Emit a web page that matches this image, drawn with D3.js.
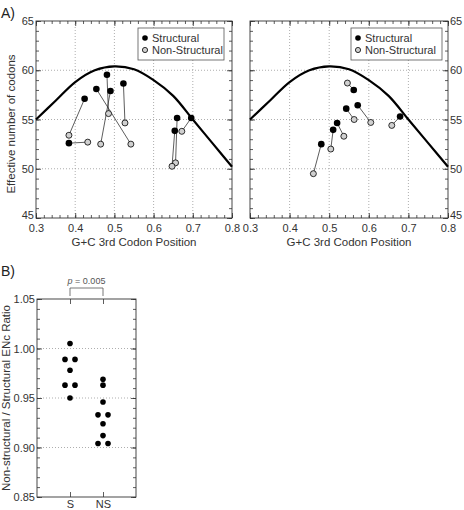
<!DOCTYPE html>
<html><head><meta charset="utf-8">
<script src="https://cdn.jsdelivr.net/npm/d3@7"></script>
<style>
body{margin:0;background:#fff;}
svg, svg text{font-family:"Liberation Sans",Arial,Helvetica,sans-serif;}
</style></head>
<body><svg id="c" width="464" height="510"></svg>
<script>
// ---- Data ----
const curveGC  = [0.30,0.35,0.40,0.45,0.50,0.55,0.60,0.65,0.70,0.75,0.80];
const curveENc = [55.0,56.9,58.8,60.0,60.4,60.1,59.0,57.4,55.0,52.6,50.2];

// Left panel: structural (filled) vs non-structural (grey) pairs
const leftStructGC  = [0.384,0.424,0.454,0.481,0.490,0.523,0.660,0.654,0.696];
const leftStructENc = [52.6,57.1,58.1,59.55,57.9,58.65,55.15,53.85,55.15];
const leftNonGC     = [0.432,0.384,0.542,0.485,0.465,0.527,0.656,0.647,0.672];
const leftNonENc    = [52.7,53.4,52.5,55.6,52.5,54.65,50.6,50.25,53.8];

// Right panel
const rightStructGC  = [0.480,0.510,0.520,0.543,0.562,0.572,0.679];
const rightStructENc = [52.5,53.95,54.65,56.1,58.0,56.45,55.3];
const rightNonGC     = [0.460,0.504,0.537,0.563,0.546,0.605,0.658];
const rightNonENc    = [49.5,52.0,53.3,55.0,58.7,54.7,54.4];

// Panel B ratios
const ratioCategories = ["S","NS"];
const ratioS  = [1.005,0.989,0.989,0.978,0.963,0.963,0.950];
const ratioNS = [0.969,0.963,0.946,0.933,0.933,0.924,0.912,0.904,0.904];

const xTicksA = [0.3,0.4,0.5,0.6,0.7,0.8];
const yTicksA = [45,50,55,60,65];
const yTicksB = [0.85,0.90,0.95,1.00,1.05];
const legendLabels = ["Structural","Non-Structural"];
const pLabel = "0.005";

// ---- Drawing ----
const FONT = "Liberation Sans, Arial, Helvetica, sans-serif";
const svg = d3.select("#c");
const tickColor = "#333";
const greyFill = "#d0d0d0";

svg.append("text").attr("x",1).attr("y",18).attr("font-size",14).attr("fill","#222").text("A)");
svg.append("text").attr("x",1).attr("y",276).attr("font-size",14).attr("fill","#222").text("B)");

function fixAxis(sel){ sel.attr("font-family",FONT); return sel; }

function panelA(x0,x1,labelsLeft,sGC,sENc,nGC,nENc,legendX,legendW){
  const top=21,bottom=218;
  const x=d3.scaleLinear().domain([0.3,0.8]).range([x0,x1]);
  const y=d3.scaleLinear().domain([45,65]).range([bottom,top]);
  const g=svg.append("g");
  g.selectAll(".gx").data(xTicksA.slice(1,-1)).join("line")
    .attr("x1",d=>x(d)).attr("x2",d=>x(d)).attr("y1",top).attr("y2",bottom)
    .attr("stroke","#999").attr("stroke-width",0.8).attr("stroke-dasharray","1,2");
  g.selectAll(".gy").data(yTicksA.slice(1,-1)).join("line")
    .attr("y1",d=>y(d)).attr("y2",d=>y(d)).attr("x1",x0).attr("x2",x1)
    .attr("stroke","#999").attr("stroke-width",0.8).attr("stroke-dasharray","1,2");
  const xMinor=d3.range(0.30,0.8001,0.02);
  const yMinor=d3.range(45,65.001,1);
  const mk=(axisFn,scale,vals,size,fmt)=>axisFn(scale).tickValues(vals).tickSizeInner(size).tickSizeOuter(0).tickFormat(fmt);
  const none=()=>"";
  g.append("g").attr("transform",`translate(0,${bottom})`).call(mk(d3.axisTop,x,xMinor,3,none));
  const bx=g.append("g").attr("transform",`translate(0,${bottom})`).call(mk(d3.axisTop,x,xTicksA,5,d3.format(".1f")));
  fixAxis(bx).selectAll("text").attr("y",14).attr("dy",0).attr("font-size",11).attr("fill",tickColor);
  g.append("g").attr("transform",`translate(0,${top})`).call(mk(d3.axisBottom,x,xMinor,3,none));
  g.append("g").attr("transform",`translate(0,${top})`).call(mk(d3.axisBottom,x,xTicksA,5,none));
  g.append("g").attr("transform",`translate(${x0},0)`).call(mk(d3.axisRight,y,yMinor,3,none));
  const ly=g.append("g").attr("transform",`translate(${x0},0)`).call(mk(d3.axisRight,y,yTicksA,5,labelsLeft?d3.format("d"):none));
  g.append("g").attr("transform",`translate(${x1},0)`).call(mk(d3.axisLeft,y,yMinor,3,none));
  const ry=g.append("g").attr("transform",`translate(${x1},0)`).call(mk(d3.axisLeft,y,yTicksA,5,labelsLeft?none:d3.format("d")));
  const yl = labelsLeft ? ly : ry;
  fixAxis(yl).selectAll("text")
    .attr("x",labelsLeft?-2:2).attr("text-anchor",labelsLeft?"end":"start")
    .attr("font-size",11).attr("fill",tickColor)
    .attr("dy",d=>d===45?"0.05em":"0.32em");
  g.selectAll(".domain").remove();
  g.selectAll(".tick line").attr("stroke","#333").attr("stroke-width",0.8);
  g.append("rect").attr("x",x0).attr("y",top).attr("width",x1-x0).attr("height",bottom-top)
    .attr("fill","none").attr("stroke","#333").attr("stroke-width",0.9);
  const line=d3.line().x((d,i)=>x(curveGC[i])).y(d=>y(d)).curve(d3.curveCatmullRom);
  g.append("path").datum(curveENc).attr("d",line).attr("fill","none").attr("stroke","#000").attr("stroke-width",2.2);
  g.selectAll(".con").data(sGC).join("line")
    .attr("x1",(d,i)=>x(sGC[i])).attr("y1",(d,i)=>y(sENc[i]))
    .attr("x2",(d,i)=>x(nGC[i])).attr("y2",(d,i)=>y(nENc[i]))
    .attr("stroke","#333").attr("stroke-width",0.8);
  g.selectAll(".ns").data(nGC).join("circle")
    .attr("cx",(d,i)=>x(nGC[i])).attr("cy",(d,i)=>y(nENc[i])).attr("r",3)
    .attr("fill",greyFill).attr("stroke","#000").attr("stroke-width",0.8);
  g.selectAll(".st").data(sGC).join("circle")
    .attr("cx",(d,i)=>x(sGC[i])).attr("cy",(d,i)=>y(sENc[i])).attr("r",3.3).attr("fill","#000");
  g.append("text").attr("x",(x0+x1)/2).attr("y",246).attr("text-anchor","middle")
    .attr("font-size",11.5).attr("fill","#333").text("G+C 3rd Codon Position");
  const lg=g.append("g");
  lg.append("rect").attr("x",legendX).attr("y",28).attr("width",legendW).attr("height",32)
    .attr("fill","#fff").attr("stroke","#555").attr("stroke-width",0.8);
  lg.append("circle").attr("cx",legendX+7).attr("cy",38).attr("r",2.8).attr("fill","#000");
  lg.append("circle").attr("cx",legendX+7).attr("cy",50).attr("r",2.6).attr("fill",greyFill).attr("stroke","#000").attr("stroke-width",0.8);
  lg.selectAll(".lt").data(legendLabels).join("text")
    .attr("x",legendX+14).attr("y",(d,i)=>42+i*12).attr("font-size",11).attr("fill","#333").text(d=>d);
}

panelA(36,232,true,leftStructGC,leftStructENc,leftNonGC,leftNonENc,138,86);
panelA(250,448,false,rightStructGC,rightStructENc,rightNonGC,rightNonENc,351,91);

svg.append("text").attr("transform","translate(15,124) rotate(-90)").attr("text-anchor","middle")
  .attr("font-size",11.5).attr("fill","#333").text("Effective number of codons");

// ---- Panel B ----
(function(){
  const x0=37,x1=136,top=299,bottom=497;
  const x=d3.scalePoint().domain(ratioCategories).range([x0,x1]).padding(1);
  const y=d3.scaleLinear().domain([0.85,1.05]).range([bottom,top]);
  const g=svg.append("g");
  g.selectAll(".gy").data(yTicksB.slice(1,-1)).join("line")
    .attr("y1",d=>y(d)).attr("y2",d=>y(d)).attr("x1",x0).attr("x2",x1)
    .attr("stroke","#999").attr("stroke-width",0.8).attr("stroke-dasharray","1,2");
  const yMinor=d3.range(0,21).map(i=>0.85+i*0.01);
  const none=()=>"";
  const mk=(axisFn,scale,vals,size,fmt)=>axisFn(scale).tickValues(vals).tickSizeInner(size).tickSizeOuter(0).tickFormat(fmt);
  g.append("g").attr("transform",`translate(${x0},0)`).call(mk(d3.axisRight,y,yMinor,3,none));
  const ly=g.append("g").attr("transform",`translate(${x0},0)`).call(mk(d3.axisRight,y,yTicksB,5,d3.format(".2f")));
  fixAxis(ly).selectAll("text").attr("x",-2).attr("text-anchor","end").attr("font-size",11).attr("fill",tickColor);
  g.append("g").attr("transform",`translate(${x1},0)`).call(mk(d3.axisLeft,y,yMinor,3,none));
  g.append("g").attr("transform",`translate(${x1},0)`).call(mk(d3.axisLeft,y,yTicksB,5,none));
  const bx=g.append("g").attr("transform",`translate(0,${bottom})`).call(d3.axisTop(x).tickSizeInner(5).tickSizeOuter(0));
  fixAxis(bx).selectAll("text").attr("y",11).attr("dy",0).attr("font-size",11).attr("fill",tickColor);
  g.append("g").attr("transform",`translate(0,${top})`).call(d3.axisBottom(x).tickSizeInner(5).tickSizeOuter(0).tickFormat(none));
  g.selectAll(".domain").remove();
  g.selectAll(".tick line").attr("stroke","#333").attr("stroke-width",0.8);
  g.append("rect").attr("x",x0).attr("y",top).attr("width",x1-x0).attr("height",bottom-top)
    .attr("fill","none").attr("stroke","#333").attr("stroke-width",0.9);
  const groups=[["S",ratioS],["NS",ratioNS]];
  groups.forEach(([cat,vals])=>{
    const counts=d3.rollup(vals,v=>v.length,d=>d);
    const seen=new Map();
    const pts=vals.map(v=>{
      const n=counts.get(v),k=seen.get(v)||0; seen.set(v,k+1);
      return {v,off:(k-(n-1)/2)*10};
    });
    g.selectAll(null).data(pts).join("circle")
      .attr("cx",d=>x(cat)+d.off).attr("cy",d=>y(d.v)).attr("r",2.8).attr("fill","#000");
  });
  const bt=288, bl=296;
  g.append("path").attr("d",`M${x("S")},${bl}V${bt}H${x("NS")}V${bl}`)
    .attr("fill","none").attr("stroke","#555").attr("stroke-width",0.8);
  const t=g.append("text").attr("x",(x("S")+x("NS"))/2).attr("y",284).attr("text-anchor","middle")
    .attr("font-size",9).attr("fill","#555");
  t.append("tspan").attr("font-style","italic").text("p");
  t.append("tspan").text(" = "+pLabel);
})();

svg.append("text").attr("transform","translate(10,398) rotate(-90)").attr("text-anchor","middle")
  .attr("font-size",11.5).attr("fill","#333").text("Non-structural / Structural ENc Ratio");
</script></body></html>
